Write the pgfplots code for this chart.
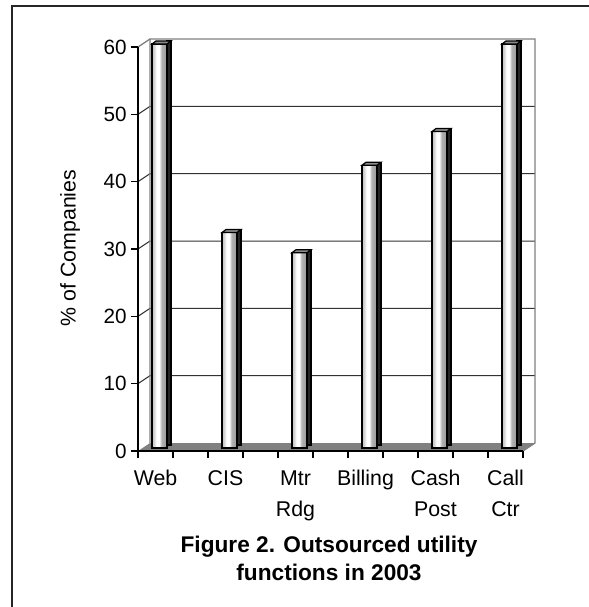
\documentclass[border=0pt]{standalone}
\usepackage{pgfplots}
\usepackage{pgfplotstable}
\pgfplotsset{compat=1.18}
\usepackage{fontspec}
\setmainfont{Liberation Sans}

\pgfdeclarehorizontalshading{barshade}{100bp}{%
  color(0bp)=(black!25); color(25bp)=(black!25); color(33bp)=(black!15);
  color(40bp)=(white); color(49bp)=(white); color(57bp)=(black!30);
  color(75bp)=(black!40); color(100bp)=(black!40)}

\pgfdeclareplotmark{bartop}{%
  \pgfpathmoveto{\pgfqpoint{-5.625pt}{0pt}}%
  \pgfpathlineto{\pgfqpoint{-2.625pt}{2.25pt}}%
  \pgfpathlineto{\pgfqpoint{8.625pt}{2.25pt}}%
  \pgfpathlineto{\pgfqpoint{5.625pt}{0pt}}%
  \pgfpathclose
  \pgfusepathqfillstroke}

\pgfplotsset{
  base/.style={scale only axis, width=288.75pt, height=303pt,
    xmin=0, xmax=11, ymin=0, ymax=60, clip=false, anchor=origin},
  front/.style={ybar, bar width=11.25pt, bar shift=0pt, shade, shading=barshade, draw=black, line width=0.9pt},
}

\pgfplotstableread{
x v
0.5 60
2.5 32
4.5 29
6.5 42
8.5 47
10.5 60
}\datatable

\begin{document}
\begin{tikzpicture}
\useasboundingbox (-103.5pt,-117pt) rectangle (338.25pt,338.25pt);
\draw[line width=1.5pt, black!85] (-94.125pt,-120pt) -- (-94.125pt,333.375pt) -- (340pt,333.375pt);

\begin{axis}[base, at={(0pt,0pt)},
  axis on top,
  axis lines*=left, axis line style={-, black, line width=0.9pt},
  tick align=outside, major tick length=5pt,
  tick style={black, line width=0.9pt},
  xtick={0,...,11}, x tick label as interval,
  xticklabels={Web,,CIS,,{Mtr\\Rdg},,Billing,,{Cash\\Post},,{Call\\Ctr}},
  xticklabel style={align=center, yshift=-6pt, font=\fontsize{16}{23.25}\selectfont},
  ytick={0,10,...,60},
  /pgf/number format/assume math mode=true,
  yticklabel style={font=\fontsize{15.5}{18}\selectfont},
]
% floor
\fill[black!50] (axis cs:0,0) -- ([shift={(9pt,6pt)}]axis cs:0,0) -- ([shift={(9pt,6pt)}]axis cs:11,0) -- (axis cs:11,0) -- cycle;
% gridlines on back and side wall
\pgfplotsinvokeforeach{10,20,30,40,50}{
  \draw[black!80, line width=0.75pt] (axis cs:0,#1) -- ([shift={(9pt,6pt)}]axis cs:0,#1) -- ([shift={(9pt,6pt)}]axis cs:11,#1);
}
% wall outlines
\draw[black!50, line width=1pt] ([shift={(9pt,6pt)}]axis cs:0,0) -- ([shift={(9pt,6pt)}]axis cs:0,60) -- ([shift={(9pt,6pt)}]axis cs:11,60) -- ([shift={(9pt,6pt)}]axis cs:11,0) -- (axis cs:11,0);
\draw[black!50, line width=1pt] (axis cs:0,60) -- ([shift={(9pt,6pt)}]axis cs:0,60);
\end{axis}

% side faces
\begin{axis}[base, at={(3pt,4.5pt)}, hide axis]
\addplot[ybar, bar width=3pt, bar shift=7.125pt, fill=black!85, draw=black, line width=0.8pt] table[x=x,y=v]{\datatable};
\end{axis}

% front faces and tops
\begin{axis}[base, at={(3pt,2.25pt)}, hide axis]
\addplot[front] coordinates {(0.5,60)};
\addplot[front] coordinates {(2.5,32)};
\addplot[front] coordinates {(4.5,29)};
\addplot[front] coordinates {(6.5,42)};
\addplot[front] coordinates {(8.5,47)};
\addplot[front] coordinates {(10.5,60)};
\addplot[only marks, mark=bartop, mark options={fill=black!45, draw=black, line width=0.9pt}] table[x=x,y=v]{\datatable};
\end{axis}

\node[rotate=90, anchor=base, font=\fontsize{16}{18}\selectfont] at (-46.8pt,152.25pt) {\% of Companies};
\node[anchor=base, font=\fontsize{17}{20}\selectfont\bfseries] at (143.25pt,-75.75pt) {Figure 2. Outsourced utility};
\node[anchor=base, font=\fontsize{17}{20}\selectfont\bfseries] at (143.25pt,-96.75pt) {functions in 2003};
\end{tikzpicture}
\end{document}
